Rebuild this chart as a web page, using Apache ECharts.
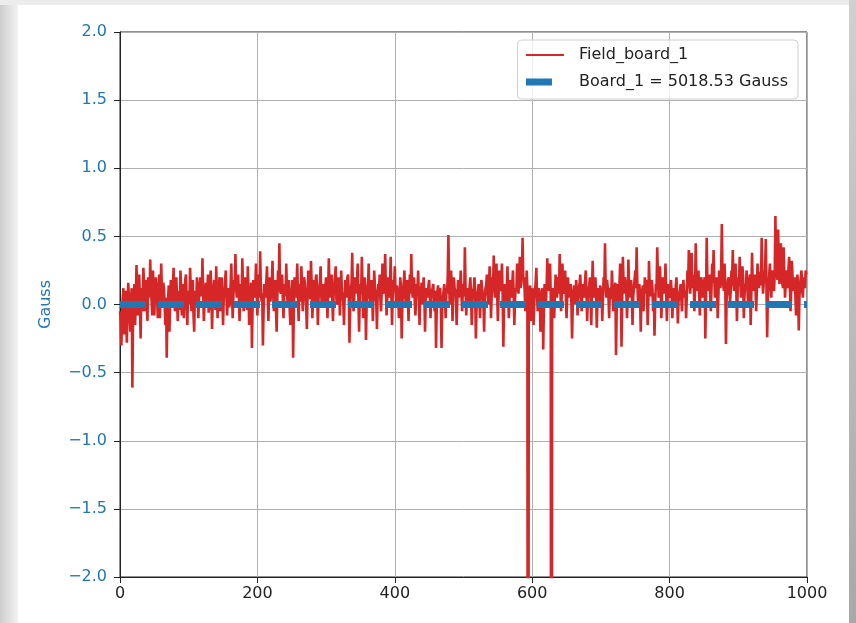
<!DOCTYPE html>
<html>
<head>
<meta charset="utf-8">
<script src="https://cdn.jsdelivr.net/npm/echarts@6/dist/echarts.min.js"></script>
<style>
  html, body { margin: 0; padding: 0; background: #ffffff; }
  #main { width: 856px; height: 623px; }
</style>
</head>
<body>
<div id="main"></div>
<script>
// field readings, one per sample index (offset from board mean, Gauss)
var xStep = 1;
var fieldBoard1 = [
  -0.05,-0.12,-0.3,-0.08,0.05,0.12,-0.22,-0.02,0.1,-0.15,-0.28,0.02,0.16,0.05,-0.1,-0.2,0.02,0.12,-0.61,-0.1,0.08,0.15,-0.15,0.05,0.29,0.1,-0.08,0.18,0.22,0.0,-0.25,0.08,0.12,-0.05,0.27,0.15,-0.05,0.1,0.18,-0.02,-0.12,0.2,0.1,0.05,0.33,0.12,0.02,-0.08,0.25,0.1,
  -0.08,0.12,0.2,0.02,0.05,-0.1,0.15,0.22,-0.1,0.08,0.3,0.1,-0.02,0.16,0.12,0.0,-0.15,0.05,-0.39,-0.05,0.05,0.14,-0.2,0.02,0.18,0.08,0.0,0.12,0.27,0.06,-0.05,0.15,0.2,0.04,-0.12,0.1,0.1,-0.04,0.25,0.12,-0.08,0.06,0.15,-0.1,0.02,0.18,0.22,0.05,-0.15,0.08,
  0.1,0.0,0.27,0.12,-0.05,0.06,0.18,-0.08,-0.2,0.1,0.08,0.02,0.2,0.14,-0.1,0.04,0.05,0.2,0.15,0.06,0.34,0.1,-0.12,0.0,0.1,0.16,-0.02,0.08,0.22,-0.06,0.0,0.12,0.25,0.05,-0.18,0.02,0.12,0.18,0.05,-0.04,0.28,0.1,-0.1,0.06,0.15,0.2,-0.05,0.1,0.2,0.04,
  -0.15,0.05,0.1,0.18,0.25,0.04,-0.08,0.1,0.12,-0.02,0.02,0.14,0.3,0.08,-0.1,0.05,0.18,0.1,0.37,0.12,0.05,0.2,0.22,0.06,-0.12,0.1,0.15,0.02,0.34,0.14,-0.05,0.08,0.2,0.12,0.08,-0.04,0.28,0.1,-0.15,0.05,0.1,0.16,-0.32,-0.02,0.18,0.1,0.05,0.14,0.3,0.06,
  -0.08,0.12,0.22,0.05,0.39,0.14,0.02,0.08,-0.3,-0.05,0.15,0.1,0.05,0.18,0.28,0.06,-0.12,0.1,0.2,0.02,0.1,0.16,0.32,0.08,-0.05,0.12,0.18,-0.02,-0.2,0.05,0.25,0.14,0.45,0.1,0.08,0.2,0.22,0.04,-0.1,0.12,0.15,0.06,0.3,0.1,0.0,0.15,0.18,-0.04,-0.15,0.08,
  0.1,0.18,-0.39,-0.05,0.2,0.1,0.05,0.14,0.3,0.06,-0.12,0.1,0.15,0.02,0.28,0.12,-0.05,0.08,0.2,0.16,0.08,-0.02,-0.18,0.05,0.25,0.12,0.1,0.04,0.32,0.15,-0.1,0.06,0.18,0.1,0.02,0.2,0.22,0.08,-0.15,0.04,0.12,0.16,0.28,0.06,-0.02,0.12,0.15,0.0,0.05,0.14,
  0.2,0.06,-0.1,0.12,0.34,0.1,0.05,0.18,0.22,0.02,-0.12,0.08,0.15,0.14,0.28,0.04,0.0,0.1,0.2,0.16,-0.08,0.06,0.25,0.1,0.1,0.02,-0.15,0.05,0.18,0.12,0.05,0.2,0.22,0.08,-0.28,-0.02,0.12,0.15,0.38,0.1,-0.05,0.06,0.2,0.12,0.08,0.18,0.3,0.04,-0.2,0.05,
  0.15,0.08,0.35,0.12,-0.1,0.04,0.2,0.1,-0.26,0.0,0.12,0.16,0.3,0.06,0.02,0.12,0.18,0.08,-0.12,0.05,0.25,0.14,0.08,0.02,-0.18,0.06,0.15,0.1,0.22,0.04,-0.05,0.12,0.3,0.08,0.1,0.18,0.37,0.12,-0.08,0.05,0.2,0.1,0.05,0.16,0.35,0.06,-0.15,0.08,0.18,0.12,
  0.28,0.1,0.0,0.14,0.15,0.04,-0.1,0.08,0.2,0.12,-0.25,0.0,0.1,0.16,0.25,0.06,0.02,0.1,0.18,0.05,-0.12,0.12,0.22,0.08,0.37,0.14,0.05,0.1,0.2,0.02,-0.08,0.06,0.15,0.12,0.25,0.04,-0.15,0.08,0.1,0.16,0.0,0.1,0.2,0.06,-0.2,0.02,0.12,0.1,0.05,0.14,
  0.18,0.06,-0.1,0.08,0.08,0.12,0.15,0.02,-0.05,0.1,-0.32,-0.04,0.1,0.14,0.02,0.08,0.12,0.0,-0.32,-0.02,0.05,0.1,0.15,0.06,-0.1,0.12,0.08,0.2,0.51,0.15,0.0,0.08,0.25,0.1,-0.12,0.04,0.2,0.12,0.1,0.06,-0.15,0.02,0.18,0.1,0.05,0.14,0.25,0.08,-0.05,0.1,
  0.15,0.06,0.42,0.12,-0.08,0.04,0.12,0.1,0.02,0.14,0.2,0.06,-0.15,0.02,0.1,0.12,0.2,0.08,-0.25,-0.02,0.05,0.1,0.15,0.04,-0.1,0.08,0.18,0.12,0.08,0.02,-0.2,0.05,0.12,0.14,0.22,0.08,0.0,0.1,0.28,0.16,-0.1,0.06,0.2,0.12,0.36,0.1,0.05,0.14,0.3,0.08,
  -0.12,0.05,0.25,0.12,0.1,0.18,0.3,0.06,-0.31,0.0,0.15,0.1,0.02,0.12,0.28,0.08,-0.1,0.04,0.18,0.12,0.05,0.16,0.25,0.08,-0.15,0.04,0.12,0.1,0.3,0.14,0.08,0.2,0.35,0.12,0.15,0.22,0.49,0.18,0.2,0.1,-0.05,0.06,0.25,0.12,-8.0,0.05,0.1,0.14,-0.12,0.04,
  0.05,0.12,-0.15,0.02,0.1,0.16,0.27,0.08,-0.05,0.1,0.12,0.04,-0.2,0.06,0.05,0.12,-0.33,-0.05,0.15,0.08,0.02,0.14,0.34,0.1,0.1,0.18,0.3,0.06,-8.0,0.02,0.12,0.1,-0.1,0.06,0.22,0.12,0.05,0.16,0.2,0.08,0.37,0.12,-0.05,0.06,0.3,0.14,0.08,0.1,0.25,0.04,
  -0.1,0.06,0.2,0.12,0.05,0.1,0.15,0.02,-0.25,-0.02,0.1,0.14,0.0,0.08,0.18,0.1,-0.08,0.04,0.12,0.16,0.22,0.06,-0.05,0.1,0.15,0.12,0.05,0.18,0.25,0.08,-0.12,0.04,0.1,0.14,0.2,0.06,-0.15,0.1,0.32,0.12,0.05,0.16,0.2,0.08,-0.17,0.02,0.12,0.1,0.02,0.14,
  0.15,0.08,-0.12,0.05,0.2,0.14,0.45,0.12,0.05,0.18,0.18,0.06,-0.1,0.1,0.12,0.04,0.25,0.12,-0.05,0.08,0.1,0.16,-0.37,-0.04,0.15,0.1,0.02,0.14,0.3,0.12,-0.31,0.02,0.35,0.15,0.08,0.2,0.2,0.1,-0.1,0.06,0.33,0.14,0.05,0.12,0.18,0.08,-0.15,0.05,0.12,0.18,
  0.25,0.12,0.42,0.16,0.02,0.1,0.15,0.06,-0.2,0.04,0.1,0.14,-0.05,0.08,0.2,0.12,0.08,0.18,-0.15,0.02,0.32,0.14,0.1,0.06,0.18,0.12,-0.05,0.08,-0.23,0.0,0.15,0.12,0.42,0.2,0.05,0.14,0.28,0.1,-0.1,0.06,0.2,0.16,0.08,0.12,0.3,0.1,-0.12,0.04,0.15,0.08,
  0.05,0.12,0.18,0.08,-0.1,0.04,0.12,0.1,0.02,0.14,0.2,0.06,-0.14,0.02,0.08,0.1,0.15,0.05,-0.05,0.08,0.18,0.12,0.05,0.1,-0.1,0.06,0.25,0.16,0.4,0.14,0.08,0.2,0.38,0.12,0.15,0.22,-0.05,0.1,0.45,0.18,0.1,0.14,0.25,0.08,-0.08,0.12,0.2,0.16,0.05,0.1,
  0.15,0.2,-0.25,0.05,0.49,0.18,0.1,0.14,0.22,0.08,-0.05,0.12,0.3,0.16,0.4,0.2,0.05,0.1,0.2,0.14,-0.1,0.06,0.25,0.18,0.12,0.22,0.59,0.2,0.15,0.1,0.3,0.16,-0.29,0.04,0.1,0.18,0.2,0.12,0.02,0.1,0.25,0.2,0.4,0.15,0.1,0.22,0.3,0.12,-0.12,0.08,
  0.2,0.14,0.35,0.18,0.05,0.1,0.28,0.2,-0.1,0.06,0.15,0.12,0.25,0.16,0.02,0.1,0.18,0.22,-0.15,0.08,0.38,0.15,0.1,0.2,0.22,0.12,-0.05,0.1,0.3,0.18,0.12,0.24,0.25,0.14,0.49,0.2,0.08,0.16,0.2,0.26,0.48,0.12,-0.24,0.06,0.15,0.22,0.3,0.14,0.05,0.18,
  0.25,0.15,0.1,0.22,0.65,0.3,0.3,0.18,0.55,0.25,0.15,0.3,0.45,0.2,0.2,0.12,0.42,0.22,0.05,0.15,0.25,0.18,0.12,0.26,0.35,0.14,-0.05,0.1,0.32,0.2,0.1,0.16,0.2,0.08,-0.08,0.12,0.22,0.14,-0.19,0.05,0.15,0.2,0.25,0.1,0.05,0.18,0.2,0.12,0.25,0.22
];
// reference level (board mean subtracted)
var board1Level = [[0, 0], [1000, 0]];
var seriesNames = ['Field_board_1', 'Board_1 = 5018.53 Gauss'];
var xTicks = [0, 1000, 200];
var yTicks = [-2, 2, 0.5];

var font = 'DejaVu Sans';
var red = '#d62728';
var blue = '#1f77b4';
var chart = echarts.init(document.getElementById('main'));

var fieldData = fieldBoard1.map(function (v, i) { return [i * xStep, v]; });

chart.setOption({
  animation: false,
  backgroundColor: '#ffffff',
  // screenshot frame around the figure
  graphic: [
    { type: 'rect', left: 0, top: 0, z: -10, shape: { width: 18, height: 623 },
      style: { fill: new echarts.graphic.LinearGradient(0, 0, 1, 0, [
        { offset: 0, color: '#cdcdcd' }, { offset: 1, color: '#f3f3f3' }]) } },
    { type: 'rect', left: 0, top: 0, z: -10, shape: { width: 856, height: 5 },
      style: { fill: '#ececec' } },
    { type: 'rect', left: 849, top: 0, z: -10, shape: { width: 7, height: 623 },
      style: { fill: new echarts.graphic.LinearGradient(0, 0, 0, 1, [
        { offset: 0, color: '#d0d0d0' }, { offset: 1, color: '#a8a8a8' }]) } }
  ],
  grid: {
    left: 120, right: 49, top: 32, bottom: 46,
    show: true, borderColor: '#222', borderWidth: 1
  },
  legend: {
    right: 58, top: 40,
    orient: 'vertical',
    align: 'left',
    zlevel: 2,
    itemWidth: 38, itemHeight: 10, itemGap: 11,
    padding: [7, 10, 9, 5],
    borderColor: '#d0d0d0', borderWidth: 1, borderRadius: 4,
    backgroundColor: 'rgba(255,255,255,0.8)',
    itemStyle: { opacity: 0, borderWidth: 0 },
    textStyle: { fontFamily: font, fontSize: 16, color: '#222', padding: [0, 0, 0, 10] },
    data: [
      { name: seriesNames[0], lineStyle: { width: 2 } },
      { name: seriesNames[1], lineStyle: { width: 7 } }
    ]
  },
  xAxis: {
    type: 'value',
    min: xTicks[0], max: xTicks[1], interval: xTicks[2],
    axisLine: { onZero: false, lineStyle: { color: '#222' } },
    axisTick: { length: 6, lineStyle: { color: '#222' } },
    axisLabel: {
      fontFamily: font, fontSize: 16, color: '#222', margin: 9,
      formatter: function (v) { return String(v); }
    },
    splitLine: { lineStyle: { color: '#b0b0b0', width: 1 } }
  },
  yAxis: {
    type: 'value',
    min: yTicks[0], max: yTicks[1], interval: yTicks[2],
    name: 'Gauss',
    nameLocation: 'middle',
    nameGap: 66,
    nameTextStyle: { fontFamily: font, fontSize: 16, color: blue },
    axisLine: { show: true, onZero: false, lineStyle: { color: '#222' } },
    axisTick: { show: true, length: 6, lineStyle: { color: '#222' } },
    axisLabel: {
      fontFamily: font, fontSize: 16, color: blue, margin: 13,
      formatter: function (v) { return (v < 0 ? '\u2212' : '') + Math.abs(v).toFixed(1); }
    },
    splitLine: { lineStyle: { color: '#b0b0b0', width: 1 } }
  },
  series: [
    {
      name: seriesNames[0],
      type: 'line',
      data: fieldData,
      symbol: 'none',
      clip: true,
      lineStyle: { color: red, width: 2.6 },
      itemStyle: { color: red },
      z: 2
    },
    {
      name: seriesNames[1],
      type: 'line',
      data: board1Level,
      symbol: 'none',
      zlevel: 1,
      lineStyle: { color: blue, width: 7, type: [26, 12] },
      itemStyle: { color: blue },
      z: 3
    }
  ]
});
</script>
</body>
</html>
